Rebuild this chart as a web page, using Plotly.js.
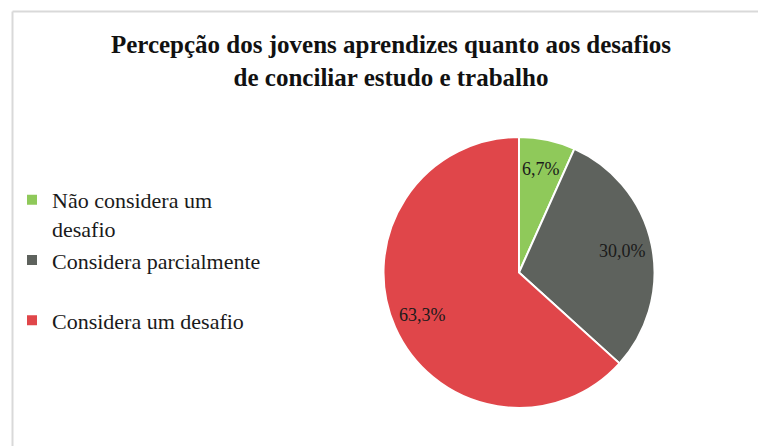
<!DOCTYPE html>
<html>
<head>
<meta charset="utf-8">
<script src="https://cdn.plot.ly/plotly-3.0.1.min.js"></script>
<style>
  html, body { margin: 0; padding: 0; background: #fff; }
  #chart { width: 758px; height: 446px; }
</style>
</head>
<body>
<div id="chart"></div>
<script>
// dados do gráfico
const categorias = ['Não considera um desafio', 'Considera parcialmente', 'Considera um desafio'];
const valores = [6.7, 30.0, 63.3];
const rotulos = ['6,7%', '30,0%', '63,3%'];
const cores = ['#8fc95a', '#5e625d', '#e0464a'];

// quebras de linha da legenda como no original
const legendaTexto = ['Não considera um<br>desafio', 'Considera parcialmente<br> ', 'Considera um desafio'];

const W = 758, H = 446;
const px = v => v / W;
const py = v => 1 - v / H;
const FONTE = 'Liberation Serif, Times New Roman, serif';

const trace = {
    type: 'pie',
    labels: legendaTexto,
    values: valores,
    textinfo: 'none',
    sort: false,
    direction: 'clockwise',
    rotation: 0,
    marker: { colors: cores, line: { color: '#ffffff', width: 2 } },
    domain: { x: [px(383), px(655)], y: [py(408), py(137)] },
    hovertext: categorias,
    hoverinfo: 'text+percent'
};

const layout = {
    width: W,
    height: H,
    margin: { l: 0, r: 0, t: 0, b: 0 },
    paper_bgcolor: '#ffffff',
    font: { family: FONTE, color: '#1a1a1a' },
    title: {
        text: '<b>Percepção dos jovens aprendizes quanto aos desafios<br>de conciliar estudo e trabalho</b>',
        font: { family: FONTE, size: 25, color: '#111' },
        x: px(391),
        xanchor: 'center',
        y: py(53),
        yanchor: 'top',
        xref: 'paper',
        yref: 'paper'
    },
    showlegend: true,
    legend: {
        x: px(12),
        y: py(179),
        xanchor: 'left',
        yanchor: 'top',
        valign: 'top',
        bgcolor: 'rgba(0,0,0,0)',
        font: { family: FONTE, size: 22, color: '#1a1a1a' },
        itemwidth: 30,
        traceorder: 'normal'
    },
    shapes: [
        { type: 'line', xref: 'paper', yref: 'paper', x0: px(12.5), x1: px(12.5), y0: py(11.5), y1: -0.05,
          line: { color: '#d9d9d9', width: 2 } },
        { type: 'line', xref: 'paper', yref: 'paper', x0: px(12.5), x1: 1.05, y0: py(11.5), y1: py(11.5),
          line: { color: '#d9d9d9', width: 2 } }
    ]
};

const gd = document.getElementById('chart');

Plotly.newPlot(gd, [trace], layout, { displayModeBar: false, staticPlot: true }).then(() => {
    // rótulos de percentual posicionados como no Excel (perto da borda de cada fatia)
    const cd = gd.calcdata[0];
    const cx = cd[0].cx, cy = cd[0].cy, r = cd[0].r;
    const anotacoes = cd.map((pt, i) => {
        const ang = pt.midangle;
        const f = 0.78;
        return {
            xref: 'paper', yref: 'paper',
            x: (cx + f * r * Math.sin(ang)) / W,
            y: 1 - (cy - f * r * Math.cos(ang)) / H,
            text: rotulos[pt.i !== undefined ? pt.i : i],
            showarrow: false,
            xanchor: 'center', yanchor: 'middle',
            font: { family: FONTE, size: 18, color: '#1a1a1a' }
        };
    });
    return Plotly.relayout(gd, { annotations: anotacoes });
});
</script>
</body>
</html>
